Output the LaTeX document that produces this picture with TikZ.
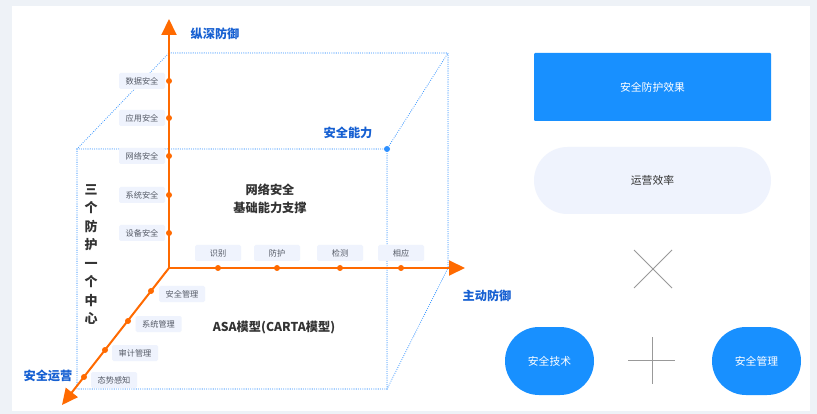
\documentclass[tikz,border=0pt]{standalone}
\usepackage{fontspec}
\setmainfont{Noto Sans CJK SC}
\usetikzlibrary{arrows.meta}
\definecolor{orng}{HTML}{FF6A00}
\definecolor{bgc}{HTML}{EEF2F7}
\definecolor{dotblue}{HTML}{2E90FF}
\definecolor{tblue}{HTML}{1660D2}
\definecolor{boxblue}{HTML}{1890FF}
\definecolor{lblfill}{HTML}{EFF3FD}
\definecolor{lbltext}{HTML}{555A66}
\definecolor{darktext}{HTML}{333333}
\definecolor{crossgray}{HTML}{999999}
\tikzset{
  cube/.style={dotblue, line width=1.1pt, dash pattern=on 0pt off 2.2pt, line cap=round},
  axis/.style={orng, line width=2pt, -{Triangle[length=16pt,width=15pt]}},
  adot/.style={circle, fill=orng, inner sep=0pt, minimum size=6pt},
  lbl/.style={fill=lblfill, text=lbltext, rounded corners=1.5pt, minimum width=46pt, minimum height=16pt, inner sep=0pt, font=\fontsize{8.2}{9}\selectfont},
  axtitle/.style={text=tblue, font=\bfseries\fontsize{12.2}{14}\selectfont, inner sep=0pt},
  maintext/.style={text=darktext, font=\bfseries\fontsize{12.2}{18}\selectfont, inner sep=0pt, align=center},
  bluebox/.style={fill=boxblue, text=white, font=\fontsize{10.8}{12}\selectfont, inner sep=0pt},
  crossline/.style={crossgray, line width=0.8pt}
}
\begin{document}
\begin{tikzpicture}[x=1pt,y=-1pt]
\useasboundingbox (0,0) rectangle (817,414);
\fill[bgc] (0,0) rectangle (817,414);
\fill[white] (12,6) rectangle (810,411);

% cube
\coordinate (A) at (77,149);
\coordinate (B) at (387,149);
\coordinate (C) at (387,389);
\coordinate (D) at (77,389);
\coordinate (E) at (169,53);
\coordinate (F) at (448,53);
\coordinate (G) at (448,268);
\draw[cube] (A) -- (B) -- (C) -- (D) -- cycle;
\draw[cube] (E) -- (F) -- (G);
\draw[cube] (A) -- (E);
\draw[cube] (B) -- (F);
\draw[cube] (C) -- (G);
\node[circle, fill=dotblue, inner sep=0pt, minimum size=6pt] (Bdot) at (B) {};
\node[axtitle] (cap) at (348,133) {安全能力};

% axes
\coordinate (O) at (169,268);
\coordinate (Ytip) at (169,19);
\coordinate (Xtip) at (465,268);
\coordinate (Ztip) at (62,405);
\draw[axis] (O) -- (Ytip);
\draw[axis] (O) -- (Xtip);
\draw[axis] (O) -- (Ztip);

\node[axtitle] (yt) at (215,34) {纵深防御};
\node[axtitle] (xt) at (487,296) {主动防御};
\node[axtitle] (zt) at (48,376) {安全运营};

% vertical axis dots and labels
\foreach \y/\t [count=\i] in {81/数据安全,118/应用安全,156/网络安全,195/系统安全,233/设备安全}{
  \node[adot] (v\i) at (169,\y) {};
  \node[lbl] (vl\i) at (142,\y) {\t};
}
% horizontal axis
\foreach \x/\t [count=\i] in {218/识别,277/防护,340/检测,401/相应}{
  \node[adot] (h\i) at (\x,268) {};
  \node[lbl] (hl\i) at (\x,253) {\t};
}
% diagonal axis
\node[adot] (d1) at (151,291) {};
\node[lbl] (dl1) at (182,294) {安全管理};
\node[adot] (d2) at (128,321) {};
\node[lbl] (dl2) at (158.5,324) {系统管理};
\node[adot] (d3) at (105,350) {};
\node[lbl] (dl3) at (135,353) {审计管理};
\node[adot] (d4) at (84,377) {};
\node[lbl] (dl4) at (114,380) {态势感知};

% texts
\node[maintext, font=\bfseries\fontsize{13}{18.5}\selectfont] (vt) at (91,254.5) {三\\个\\防\\护\\一\\个\\中\\心};
\node[maintext] (mt) at (270,199) {网络安全\\基础能力支撑};
\node[maintext] (asa) at (274,328) {ASA模型(CARTA模型)};

% right side
\node[bluebox, minimum width=237pt, minimum height=68pt, rounded corners=1pt] (eff) at (652.5,87) {安全防护效果};
\node[fill=lblfill, text=darktext, rounded corners=33.5pt, minimum width=237pt, minimum height=67pt, inner sep=0pt, font=\fontsize{10.8}{12}\selectfont] (op) at (652.5,180.5) {运营效率};
\coordinate (x1) at (634,250);
\coordinate (x2) at (672,288);
\coordinate (x3) at (672,250);
\coordinate (x4) at (634,288);
\draw[crossline] (x1) -- (x2);
\draw[crossline] (x3) -- (x4);
\node[bluebox, rounded corners=34pt, minimum width=89pt, minimum height=68pt] (tech) at (549.5,361) {安全技术};
\node[bluebox, rounded corners=34pt, minimum width=89pt, minimum height=68pt] (mgmt) at (756.5,361) {安全管理};
\coordinate (p1) at (628,360);
\coordinate (p2) at (675,360);
\coordinate (p3) at (652,337);
\coordinate (p4) at (652,384);
\draw[crossline] (p1) -- (p2);
\draw[crossline] (p3) -- (p4);
\end{tikzpicture}
\end{document}
